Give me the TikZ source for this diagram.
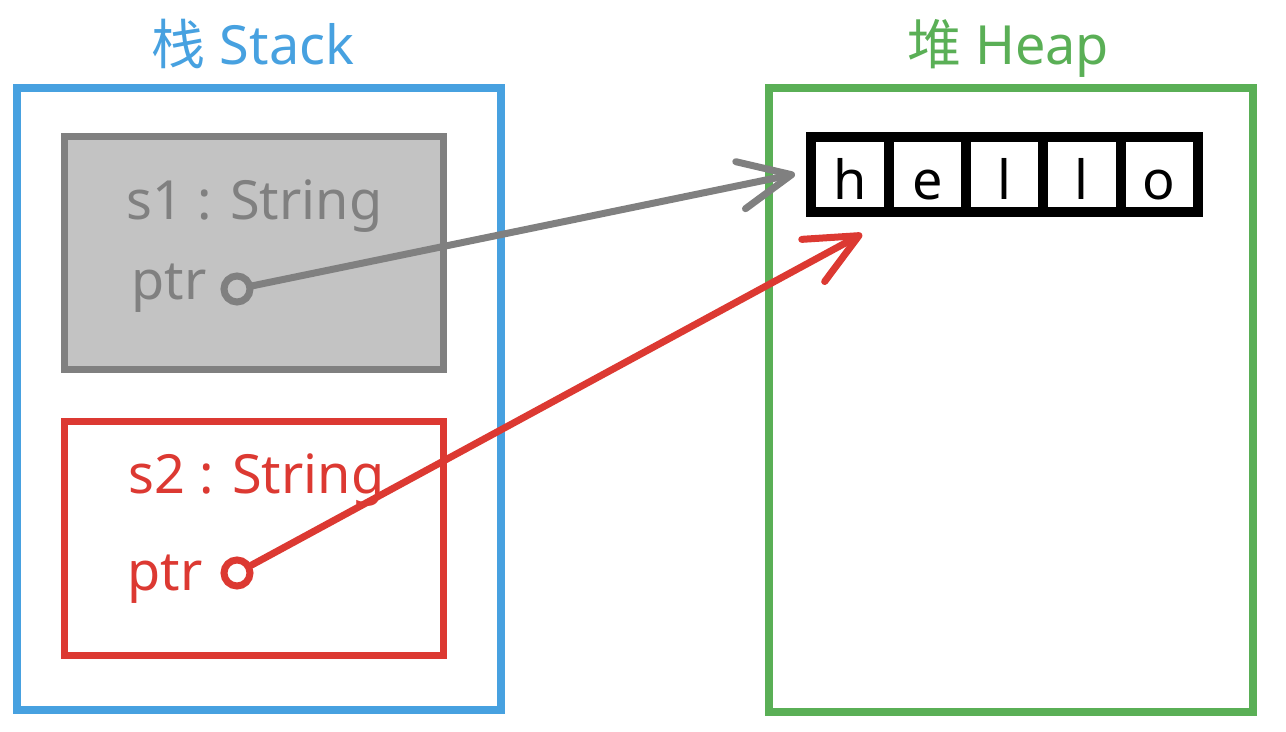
\documentclass[tikz,border=0pt]{standalone}
\usepackage{fontspec}
\setmainfont{Noto Sans}
\newfontfamily\cjk{Noto Sans CJK SC}
\usepackage{xcolor}
\definecolor{stackblue}{RGB}{71,161,224}
\definecolor{heapgreen}{RGB}{90,175,86}
\definecolor{ownergray}{RGB}{128,128,128}
\definecolor{ownerfill}{RGB}{195,195,195}
\definecolor{ownerred}{RGB}{220,57,50}
\usetikzlibrary{arrows.meta,positioning}

\begin{document}
\begin{tikzpicture}[x=0.5pt,y=-0.5pt,
  font=\fontsize{27}{33}\selectfont,
  frame/.style={draw,line width=4pt,minimum width=242pt,inner sep=0pt},
  var/.style={draw,line width=3.5pt,minimum width=189.5pt,minimum height=116.5pt,inner sep=0pt},
  lbl/.style={anchor=base west,inner sep=0pt},
  cell/.style={draw=black,line width=5pt,fill=white,minimum width=38.65pt,minimum height=37.5pt,
    inner sep=0pt,outer sep=0pt,text height=25.5pt,text depth=0pt},
  dot/.style={circle,draw,line width=3.5pt,fill=none,minimum size=13pt,inner sep=0pt},
  ptrarrow/.style={line width=3.5pt,line cap=round,line join=round,
    -{Straight Barb[length=26pt,width=24pt,line width=3.5pt,round]}}]

  \useasboundingbox (0,0) rectangle (1286,732);

  % the two memory regions
  \node[frame,draw=stackblue,minimum height=311pt] (stack) at (259,399) {};
  \node[frame,draw=heapgreen,minimum height=312pt] (heap) at (1011,400) {};
  \node[anchor=base,inner sep=0pt,text=stackblue] (stacktitle) at (253,65) {{\cjk 栈} Stack};
  \node[anchor=base,inner sep=0pt,text=heapgreen] (heaptitle) at (1008,65) {{\cjk 堆} Heap};

  % s1 (moved, greyed out) and s2
  \node[var,draw=ownergray,fill=ownerfill] (s1) at (253.5,253.5) {};
  \node[var,draw=ownerred] (s2) at (253.5,538.5) {};
  \node[lbl,text=ownergray] (s1name) at (126,220) {s1 : String};
  \node[lbl,text=ownergray] (s1ptr) at (131,300) {ptr};
  \node[lbl,text=ownerred] (s2name) at (128,494) {s2 : String};
  \node[lbl,text=ownerred] (s2ptr) at (127,590) {ptr};
  \node[dot,draw=ownergray] (p1) at (237,289) {};
  \node[dot,draw=ownerred] (p2) at (237,573) {};

  % heap buffer
  \node[cell] (h) at (850,174.5) {h};
  \node[cell,right=0pt of h] (e) {e};
  \node[cell,right=0pt of e] (l1) {l};
  \node[cell,right=0pt of l1] (l2) {l};
  \node[cell,right=0pt of l2] (o) {o};

  \coordinate (gtip) at (795,174);
  \coordinate (rtip) at (862,234);
  \draw[ptrarrow,ownergray] (p1) -- (gtip);
  \draw[ptrarrow,ownerred] (p2) -- (rtip);
\end{tikzpicture}
\end{document}
